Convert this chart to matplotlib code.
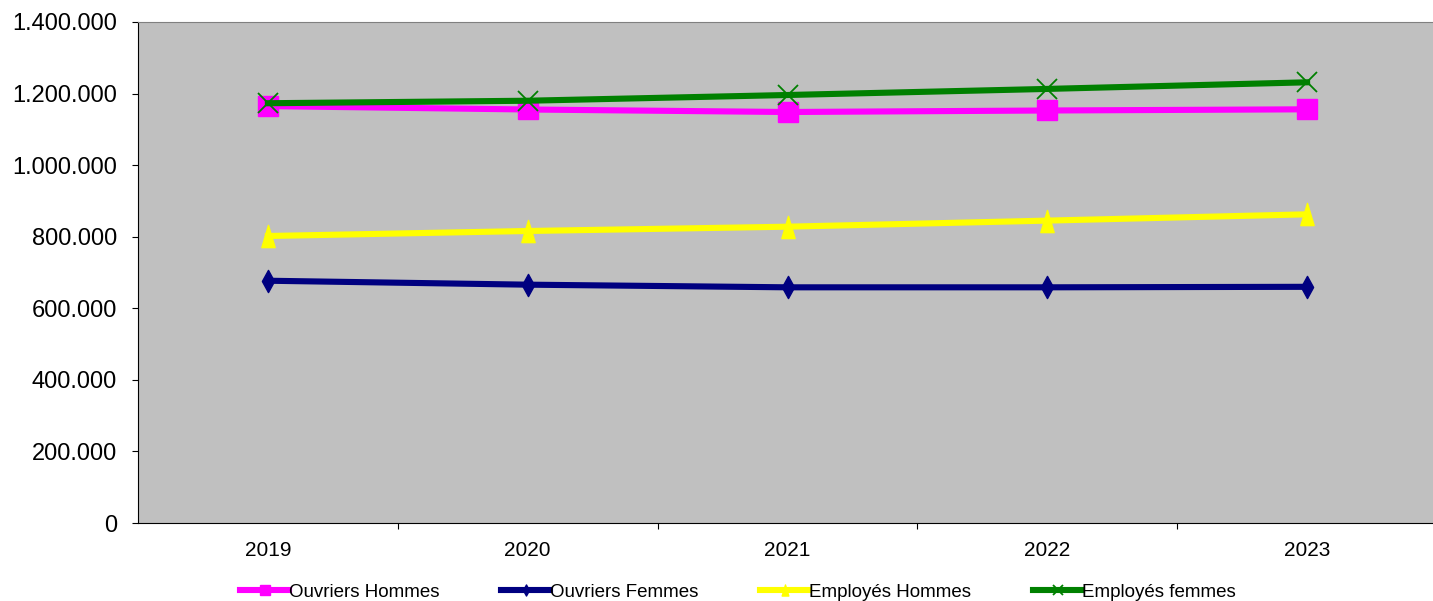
import matplotlib
matplotlib.use("Agg")
import matplotlib.pyplot as plt
from matplotlib.ticker import FuncFormatter, FixedLocator
from matplotlib.path import Path

plt.rcParams['font.family'] = ['Liberation Sans', 'DejaVu Sans']

years = ["2019", "2020", "2021", "2022", "2023"]
ouvriers_hommes = [1165000, 1155500, 1148500, 1152700, 1156000]
ouvriers_femmes = [677000, 666000, 658600, 658600, 660000]
employes_hommes = [802000, 816000, 828000, 845000, 862600]
employes_femmes = [1173000, 1180000, 1196000, 1213000, 1231500]

W, H = 1433, 601
fig = plt.figure(figsize=(W / 100, H / 100), dpi=100)
ax = fig.add_axes([138 / W, (H - 523) / H, 1299 / W, 501 / H])
ax.set_facecolor('#C0C0C0')

tall_tri = Path([(0, 1), (-0.6, -1), (0.6, -1), (0, 1)], closed=True)
tall_dia = Path([(0, 1), (0.55, 0), (0, -1), (-0.55, 0), (0, 1)], closed=True)

x = list(range(len(years)))
lw = 4.4
ax.plot(x, ouvriers_hommes, color='#FF00FF', lw=lw, marker='s', ms=15,
        mec='#FF00FF', label='Ouvriers Hommes')
ax.plot(x, ouvriers_femmes, color='#000080', lw=lw, marker=tall_dia, ms=16,
        mec='#000080', label='Ouvriers Femmes')
ax.plot(x, employes_hommes, color='#FFFF00', lw=lw, marker=tall_tri, ms=16,
        mec='#FFFF00', label='Employés Hommes')
ax.plot(x, employes_femmes, color='#008000', lw=lw, marker='x', ms=15,
        mew=1.3, mec='#008000', label='Employés femmes')

ax.set_xlim(-0.5, 4.5)
ax.set_ylim(0, 1400000)
ax.yaxis.set_major_locator(FixedLocator(range(0, 1400001, 200000)))
ax.yaxis.set_major_formatter(FuncFormatter(lambda v, p: f"{int(v):,}".replace(',', '.')))
ax.set_xticks(x)
ax.set_xticklabels(years)
ax.xaxis.set_minor_locator(FixedLocator([0.5, 1.5, 2.5, 3.5]))
ax.tick_params(axis='x', which='major', length=0, pad=13, labelsize=15)
ax.tick_params(axis='x', which='minor', length=4.5, width=0.8, direction='out')
ax.tick_params(axis='y', length=4.5, width=0.8, pad=10.5, labelsize=17)

for s in ['left', 'bottom']:
    ax.spines[s].set_color('black')
    ax.spines[s].set_linewidth(0.8)
ax.spines['top'].set_color('#808080')
ax.spines['top'].set_linewidth(0.8)
ax.spines['right'].set_visible(False)

leg = fig.legend(loc='center', bbox_to_anchor=(738 / W, 9 / H), ncol=4,
                 frameon=False, fontsize=13.5, handlelength=2.6,
                 handletextpad=0.0, columnspacing=3.3, markerscale=0.5,
                 borderaxespad=0)

fig.savefig('out.png', dpi=100)
